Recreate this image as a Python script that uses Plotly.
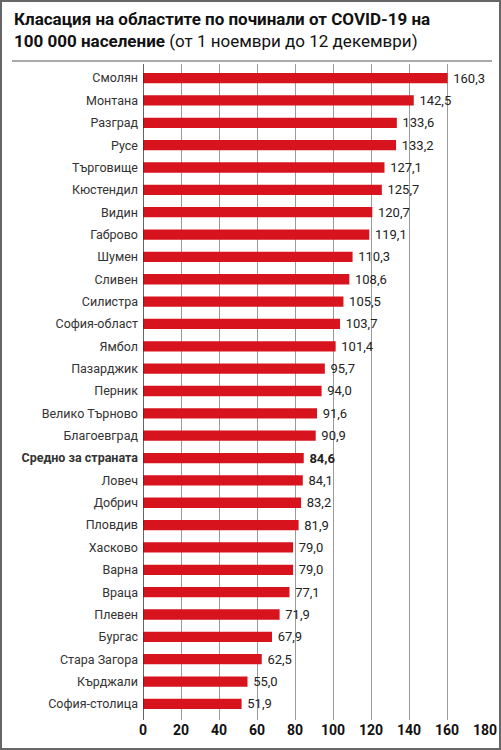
import plotly.graph_objects as go

# Data, top to bottom as shown in the chart
regions = [
    'Смолян', 'Монтана', 'Разград', 'Русе', 'Търговище', 'Кюстендил', 'Видин',
    'Габрово', 'Шумен', 'Сливен', 'Силистра', 'София-област', 'Ямбол',
    'Пазарджик', 'Перник', 'Велико Търново', 'Благоевград', 'Средно за страната',
    'Ловеч', 'Добрич', 'Пловдив', 'Хасково', 'Варна', 'Враца', 'Плевен',
    'Бургас', 'Стара Загора', 'Кърджали', 'София-столица'
]
deaths = [
    160.3, 142.5, 133.6, 133.2, 127.1, 125.7, 120.7, 119.1, 110.3, 108.6,
    105.5, 103.7, 101.4, 95.7, 94.0, 91.6, 90.9, 84.6, 84.1, 83.2, 81.9,
    79.0, 79.0, 77.1, 71.9, 67.9, 62.5, 55.0, 51.9
]
x_ticks = [0, 20, 40, 60, 80, 100, 120, 140, 160, 180]
highlight = 'Средно за страната'

W, H = 501, 750
L, R, T, B = 143, 16, 64, 30
FONT = 'Roboto, Arial, sans-serif'


def px_x(px):
    return (px - L) / (W - L - R)


def px_y(py):
    return (H - B - py) / (H - T - B)


def fmt(v):
    return f'{v:.1f}'.replace('.', ',')


ticktext = [f'<b>{r}</b>' if r == highlight else r for r in regions]
# leading thin space keeps a small gap between bar end and value
labels = ['\u2009' + (f'<b>{fmt(v)}</b>' if r == highlight else fmt(v))
          for r, v in zip(regions, deaths)]

fig = go.Figure()
fig.add_trace(go.Bar(
    y=regions,
    x=deaths,
    orientation='h',
    width=0.46,
    marker=dict(color='#d7141e', line=dict(width=0)),
    text=labels,
    textposition='outside',
    constraintext='none',
    textfont=dict(size=13, color='#222222', family=FONT),
    cliponaxis=False,
    hoverinfo='skip'
))

fig.update_layout(
    width=W, height=H,
    margin=dict(l=L, r=R, t=T, b=B),
    paper_bgcolor='white',
    plot_bgcolor='white',
    font=dict(family=FONT, color='#222222'),
    showlegend=False,
    xaxis=dict(
        range=[0, 180],
        tickvals=x_ticks,
        ticktext=[f'<b>{t}</b>' for t in x_ticks],
        tickfont=dict(size=14, color='#111111', family=FONT),
        showgrid=True, gridcolor='#9a9a9a', gridwidth=1,
        zeroline=False, showline=False,
        ticks='', automargin=False,
        fixedrange=True
    ),
    yaxis=dict(
        categoryorder='array',
        categoryarray=regions[::-1],
        tickvals=regions,
        ticktext=ticktext,
        range=[-0.72, len(regions) - 0.37],
        tickfont=dict(size=12.5, color='#333333', family=FONT),
        showgrid=False, zeroline=False,
        showline=False, automargin=False,
        ticks='', ticklabelstandoff=4,
        fixedrange=True
    ),
    annotations=[
        dict(
            text='<b>Класация на областите по починали от COVID-19 на</b><br>'
                 '<b>100 000 население</b> (от 1 ноември до 12 декември)',
            xref='paper', yref='paper',
            x=px_x(12), y=px_y(7),
            xanchor='left', yanchor='top', align='left',
            showarrow=False,
            font=dict(size=17, color='#111111', family=FONT)
        )
    ],
    shapes=[
        # axis line at zero
        dict(type='line', xref='x', yref='paper', x0=0, x1=0,
             y0=0, y1=1, line=dict(color='#333333', width=1.5)),
        # rule under the title
        dict(type='line', xref='paper', yref='paper',
             x0=px_x(12), x1=px_x(492), y0=px_y(61), y1=px_y(61),
             line=dict(color='#555555', width=1)),
        # frame
        dict(type='rect', xref='paper', yref='paper',
             x0=px_x(1), x1=px_x(W - 1), y0=px_y(H - 1), y1=px_y(1),
             line=dict(color='#666666', width=2))
    ]
)

# drop the browser's default body margin so the figure fills the window
fig.write_html('out.html', config={'displayModeBar': False},
               post_script="document.body.style.margin='0';")
